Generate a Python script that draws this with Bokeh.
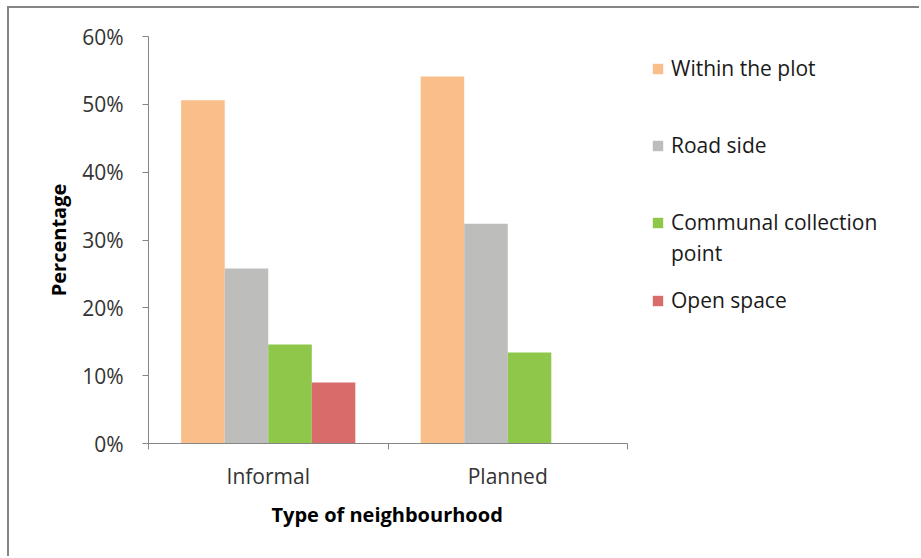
from bokeh.plotting import figure
from bokeh.models import (ColumnDataSource, FixedTicker, Legend, LegendItem,
                          NumeralTickFormatter, Range1d, Title)
from bokeh.transform import dodge
from bokeh.embed import file_html
from bokeh.resources import INLINE

# ---- data ----
categories = ["Informal", "Planned"]
series_names = ["Within the plot", "Road side", "Communal collection", "Open space"]
within_the_plot = [0.506, 0.541]
road_side = [0.258, 0.324]
communal_collection_point = [0.146, 0.134]
open_space = [0.090, 0.0]
y_ticks = [0.0, 0.1, 0.2, 0.3, 0.4, 0.5, 0.6]
x_title = "Type of neighbourhood"
y_title = "Percentage"

colors = ["#F9BE8A", "#BDBDBB", "#8FC74A", "#DA6B6B"]
FONT = "Open Sans"

# ---- layout constants (pixels) ----
FIG_W, FIG_H = 912, 550
B_LEFT, B_TOP, B_BOTTOM = 139, 28, 115
AXIS_PX = 479                      # width of the category axis in pixels
FRAME_W = FIG_W - B_LEFT           # frame reaches the right edge (legend lives inside it)

n = len(categories)
x_centers = [i + 0.5 for i in range(n)]
boundaries = [float(i) for i in range(n + 1)]
src = ColumnDataSource(dict(x=x_centers, s0=within_the_plot, s1=road_side,
                            s2=communal_collection_point, s3=open_space))

p = figure(width=FIG_W, height=FIG_H, output_backend="svg", toolbar_location=None,
           x_range=Range1d(0, n * FRAME_W / AXIS_PX), y_range=Range1d(0, 0.6),
           min_border_left=B_LEFT, min_border_right=0, min_border_top=B_TOP,
           min_border_bottom=B_BOTTOM)
p.margin = (6, 0, 0, 7)
p.styles = {"border-top": "2px solid #858585", "border-left": "2px solid #858585"}
p.outline_line_color = None
p.xgrid.visible = False
p.ygrid.visible = False
p.background_fill_color = "white"
p.border_fill_color = "white"

bw = 1 / 5.5
offsets = [-1.5 * bw, -0.5 * bw, 0.5 * bw, 1.5 * bw]
renderers = []
for k, (off, col) in enumerate(zip(offsets, colors)):
    r = p.vbar(x=dodge("x", off), top=f"s{k}", width=bw, bottom=0, source=src,
               fill_color=col, line_color=None)
    renderers.append(r)
# invisible renderer for the continuation line of a wrapped legend label
blank = p.vbar(x=[], top=[], width=bw, fill_alpha=0, line_alpha=0)

# axes
ax = p.yaxis[0]
ax.ticker = FixedTicker(ticks=y_ticks)
ax.formatter = NumeralTickFormatter(format="0%")
ax.major_tick_out = 6
ax.major_tick_in = 0
ax.minor_tick_out = 0
ax.minor_tick_in = 0
ax.axis_line_color = "#868686"
ax.major_tick_line_color = "#868686"
ax.major_label_text_font = FONT
ax.major_label_text_font_size = "21px"
ax.major_label_text_color = "#333333"
ax.major_label_standoff = 19
ax.axis_label = y_title
ax.axis_label_text_font = FONT
ax.axis_label_text_font_style = "bold"
ax.axis_label_text_font_size = "20px"
ax.axis_label_text_color = "#000000"
ax.axis_label_standoff = 7

bx = p.xaxis[0]
bx.bounds = (0, n)
bx.ticker = FixedTicker(ticks=x_centers, minor_ticks=boundaries)
bx.major_label_overrides = {xc: c for xc, c in zip(x_centers, categories)}
bx.major_tick_out = 0
bx.major_tick_in = 0
bx.minor_tick_out = 6
bx.minor_tick_in = 0
bx.minor_tick_line_color = "#868686"
bx.axis_line_color = "#868686"
bx.major_label_text_font = FONT
bx.major_label_text_font_size = "21px"
bx.major_label_text_color = "#333333"
bx.major_label_standoff = 12

# x-axis title centred under the category axis (not under the whole wide frame)
t = Title(text=x_title, align="left", offset=123, vertical_align="top",
          standoff=16, text_font=FONT, text_font_style="bold",
          text_font_size="20px", text_color="#000000")
p.add_layout(t, "below")

# legends (one per line for exact placement, inside the wide frame)
entries = [(series_names[0], renderers[0], 361),
           (series_names[1], renderers[1], 284),
           (series_names[2], renderers[2], 207),
           ("point", blank, 176),
           (series_names[3], renderers[3], 129)]
for name, r, ly in entries:
    lg = Legend(items=[LegendItem(label=name, renderers=[r])],
                location=(503, ly), glyph_width=13, glyph_height=13,
                label_standoff=7, padding=0, margin=0, spacing=0,
                border_line_color=None, background_fill_alpha=0,
                label_text_font=FONT, label_text_font_size="21px",
                label_text_color="#1a1a1a")
    p.add_layout(lg, "center")

open("out.html", "w").write(file_html(p, INLINE))
